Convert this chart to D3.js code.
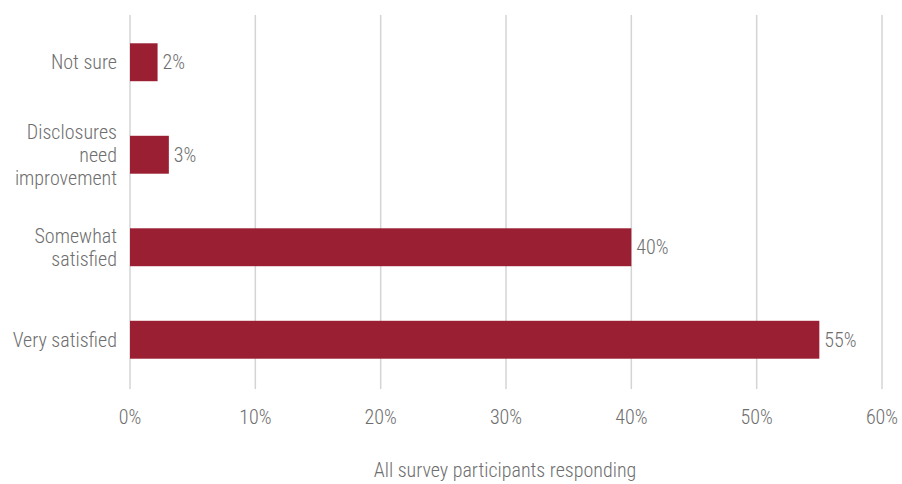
<!DOCTYPE html>
<html><head><meta charset="utf-8">
<script src="https://cdn.jsdelivr.net/npm/d3@7"></script>
<style>
body{margin:0;background:#fff;}
text{font-family:"Roboto Condensed","Liberation Sans Narrow","DejaVu Sans Condensed",sans-serif;font-stretch:condensed;font-weight:300;fill:#6e6e6e;}
</style></head><body>
<svg id="c" width="902" height="484"></svg>
<script>
const categories = [["Not sure"],["Disclosures","need","improvement"],["Somewhat","satisfied"],["Very satisfied"]];
const values = [2.2, 3.1, 40, 55];
const valueLabels = ["2%","3%","40%","55%"];
const ticks = [0,10,20,30,40,50,60];
const axisTitle = "All survey participants responding";

const svg = d3.select("#c");
const x = d3.scaleLinear().domain([0,60]).range([130,882]);
const y = d3.scaleBand().domain(d3.range(categories.length)).range([16,386]).paddingInner(0.59).paddingOuter(0.295);

svg.append("g").selectAll("line").data(ticks).join("line")
  .attr("x1",d=>x(d)).attr("x2",d=>x(d)).attr("y1",15).attr("y2",389)
  .attr("stroke","#d4d4d4").attr("stroke-width",1.5);

svg.append("g").selectAll("rect").data(values).join("rect")
  .attr("x",x(0)).attr("y",(d,i)=>y(i)).attr("width",d=>x(d)-x(0)).attr("height",y.bandwidth())
  .attr("fill","#9b1f32");

const fs = 20;
svg.append("g").selectAll("text").data(valueLabels).join("text")
  .attr("x",(d,i)=>x(values[i])+5).attr("y",(d,i)=>y(i)+y.bandwidth()/2)
  .attr("dy","0.35em").attr("font-size",fs).text(d=>d);

const lh = 23;
categories.forEach((lines,i)=>{
  const cy = y(i)+y.bandwidth()/2;
  const t = svg.append("text").attr("x",117).attr("text-anchor","end").attr("font-size",fs);
  lines.forEach((l,j)=>{
    t.append("tspan").attr("x",117).attr("y",cy + (j-(lines.length-1)/2)*lh).attr("dy","0.35em").text(l);
  });
});

svg.append("g").selectAll("text").data(ticks).join("text")
  .attr("x",d=>x(d)).attr("y",417).attr("dy","0.35em").attr("text-anchor","middle")
  .attr("font-size",fs).text(d=>d+"%");

svg.append("text").attr("x",505).attr("y",470).attr("dy","0.35em").attr("text-anchor","middle")
  .attr("font-size",fs).text(axisTitle);
</script></body></html>
